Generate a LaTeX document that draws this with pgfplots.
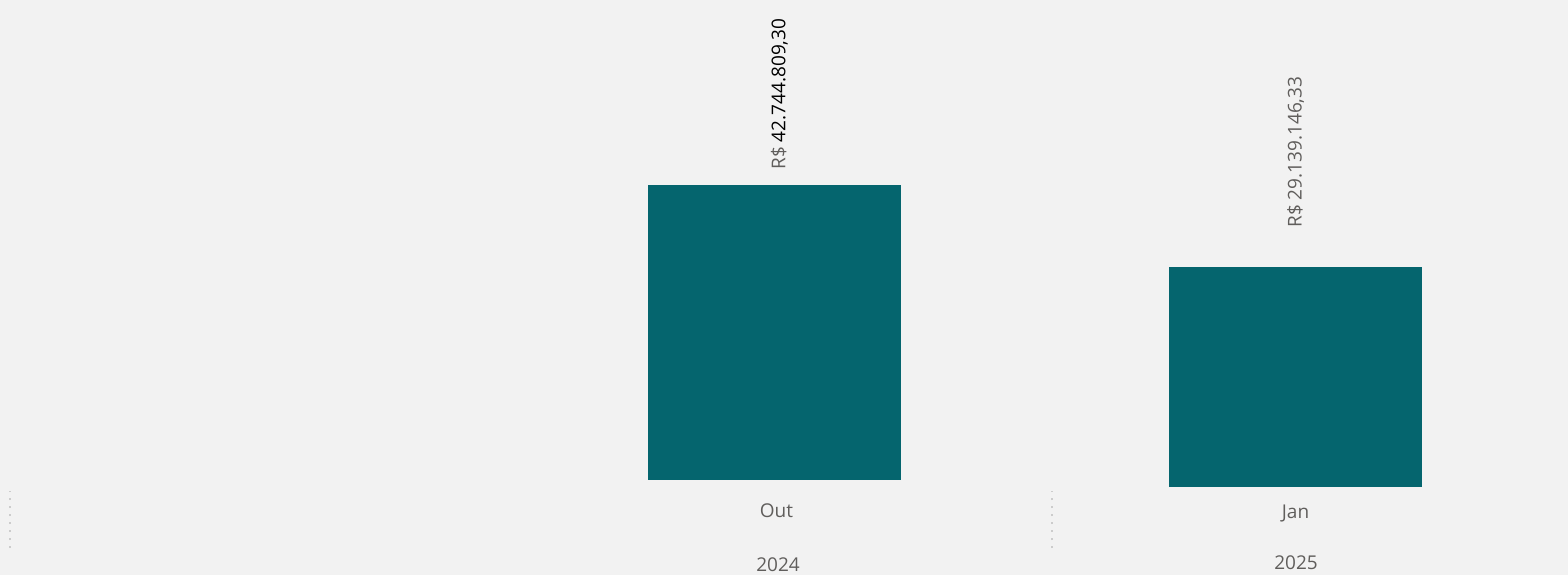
\documentclass[border=0pt]{standalone}
\usepackage{pgfplots}
\pgfplotsset{compat=1.18}
\usepackage{fontspec}
\setmainfont{Open Sans}
\definecolor{bg}{HTML}{F2F2F2}
\definecolor{bar}{HTML}{05656E}
\definecolor{txt}{HTML}{605E5C}
\begin{document}
\begin{tikzpicture}
\fill[bg] (0,0) rectangle (784pt,287.5pt);
\pgfplotsset{
  mybar/.style={
    scale only axis, width=260.5pt,
    xmin=-0.5, xmax=0.5, ymin=0,
    axis line style={draw=none}, major tick length=0pt,
    ytick=\empty, xtick={0},
    clip=false,
    xticklabel style={font=\fontsize{9.5}{11}\selectfont, text=txt, anchor=center},
    point meta=explicit symbolic,
    nodes near coords,
    every node near coord/.append style={font=\fontsize{9.5}{11}\selectfont, anchor=west, rotate=90, inner sep=0pt},
  }
}
\begin{axis}[mybar, at={(257pt,47.5pt)}, anchor=south west, height=240pt,
  ymax=69550877, xticklabels={Out},
  xticklabel style={yshift=-15.5pt, xshift=1pt},
  every node near coord/.append style={xshift=7.5pt, yshift=-2.5pt}]
\addplot[ybar, bar width=126.5pt, fill=bar, draw=none]
  coordinates {(0,42744809.30) [{\textcolor{txt}{R\$} 42.744.809,30}]};
\end{axis}
\begin{axis}[mybar, at={(517.5pt,44pt)}, anchor=south west, height=243.5pt,
  ymax=64503476, xticklabels={Jan},
  xticklabel style={yshift=-13pt},
  every node near coord/.append style={xshift=19.5pt}]
\addplot[ybar, bar width=126.5pt, fill=bar, draw=none]
  coordinates {(0,29139146.33) [{\textcolor{txt}{R\$ 29.139.146,33}}]};
\end{axis}
\node[font=\fontsize{9.5}{11}\selectfont, text=txt] at (389pt,5pt) {2024};
\node[font=\fontsize{9.5}{11}\selectfont, text=txt] at (648pt,6pt) {2025};
\draw[gray!40, line width=0.9pt, dash pattern=on 0.9pt off 3.1pt] (5pt,13.5pt) -- (5pt,42pt);
\draw[gray!40, line width=0.9pt, dash pattern=on 0.9pt off 3.1pt] (526pt,13.5pt) -- (526pt,42pt);
\pgfresetboundingbox
\useasboundingbox (0,0) rectangle (784pt,287.5pt);
\end{tikzpicture}
\end{document}
